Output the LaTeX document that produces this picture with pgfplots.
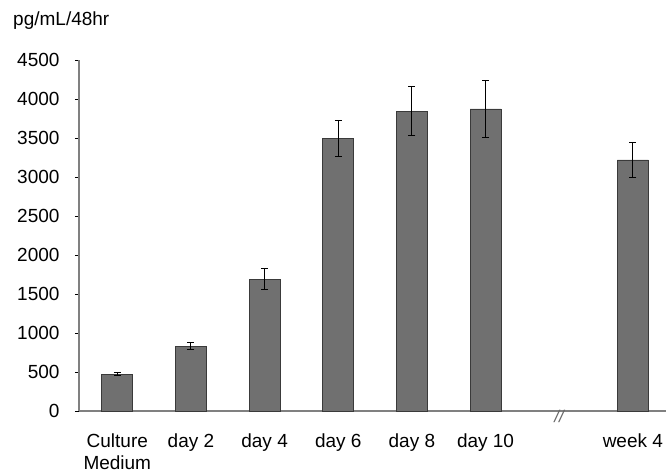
\documentclass[border=0pt]{standalone}
\usepackage{pgfplots}
\pgfplotsset{compat=1.18}
\usepackage{fontspec}
\setmainfont{Liberation Sans}
\definecolor{barfill}{HTML}{707070}
\definecolor{bardraw}{HTML}{3A3A3A}
\definecolor{axcol}{HTML}{808080}
\begin{document}
\begin{tikzpicture}[x=1pt,y=1pt]
\useasboundingbox (-79,-62) rectangle (587,411);
\begin{axis}[
  at={(0,0)}, anchor=south west,
  scale only axis, width=587pt, height=351pt,
  xmin=-0.52, xmax=7.45, ymin=0, ymax=4500,
  axis x line=bottom, axis y line=left,
  axis line style={axcol, line width=1.2pt, -},
  ytick={0,500,...,4500},
  y tick style={black, line width=0.8pt},
  tick align=outside, major tick length=4pt,
  xtick={0,1,2,3,4,5,7},
  xticklabels={Culture\\Medium, day 2, day 4, day 6, day 8, day 10, week 4},
  x tick style={draw=none},
  xticklabel style={align=center, font=\fontsize{19}{22}\selectfont, yshift=-15pt},
  yticklabel style={font=\fontsize{19}{22}\selectfont, xshift=-12pt},
  /pgf/number format/assume math mode=true,
  /pgf/number format/1000 sep={},
  ybar, bar width=31pt,
  clip=false,
]
\addplot[fill=barfill, draw=bardraw, line width=0.8pt,
  error bars/.cd, y dir=both, y explicit,
  error bar style={black, line width=1pt},
  error mark options={rotate=90, mark size=3.5pt, line width=1pt, black}]
  coordinates {
  (0,474) +- (0,20)
  (1,833) +- (0,50)
  (2,1692) +- (0,140)
  (3,3490) +- (0,230)
  (4,3846) +- (0,320)
  (5,3872) +- (0,370)
  (7,3218) +- (0,225)
  };
\node[font=\fontsize{17}{17}\selectfont\itshape, text=axcol!80!black, inner sep=0pt] at (axis cs:6,-70) {//};
\end{axis}
\node[anchor=base west, font=\fontsize{19}{22}\selectfont, inner sep=0pt] at (-66,385) {pg/mL/48hr};
\end{tikzpicture}
\end{document}
